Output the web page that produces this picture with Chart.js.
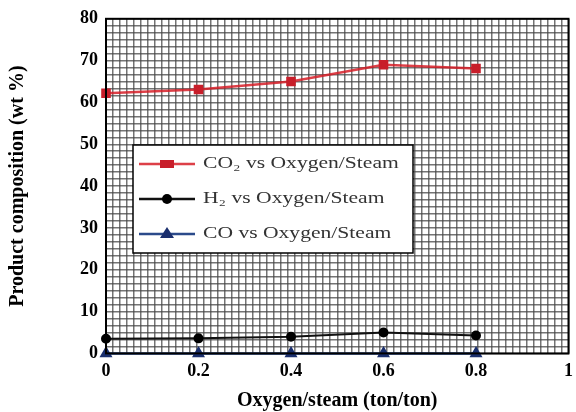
<!DOCTYPE html>
<html lang="en">
<head>
  <meta charset="UTF-8" />
  <title>Product composition vs Oxygen/steam</title>
  <script src="https://cdn.jsdelivr.net/npm/chart.js"></script>
  <style>
    body { margin: 0; padding: 0; background: #fff; }
    #wrap { width: 576px; height: 412px; }
  </style>
</head>
<body>
  <div id="wrap"><canvas id="chart"></canvas></div>

  <script>
    // data
    const ratio = [0, 0.2, 0.4, 0.6, 0.8];
    const co2 = [62.2, 63.1, 65.0, 69.0, 68.1];
    const h2 = [3.5, 3.6, 4.0, 5.0, 4.3];
    const co = [0, 0, 0, 0, 0];
    const seriesNames = ['CO\u2082 vs Oxygen/Steam', 'H\u2082 vs Oxygen/Steam', 'CO vs Oxygen/Steam'];
    const xTicks = [0, 0.2, 0.4, 0.6, 0.8, 1];
    const yTicks = [0, 10, 20, 30, 40, 50, 60, 70, 80];

    const serif = "'Liberation Serif', 'Times New Roman', serif";
    const gridColor = 'rgba(70,70,70,0.75)';

    const pts = vals => ratio.map((x, i) => ({ x: x, y: vals[i] }));

    // frame round the plot + legend box inside the plot
    const framePlugin = {
      id: 'frame',
      afterDatasetsDraw(chart) {
        const { ctx, chartArea: a } = chart;
        ctx.save();
        ctx.strokeStyle = '#000';
        ctx.lineWidth = 2;
        ctx.strokeRect(a.left, a.top, a.right - a.left, a.bottom - a.top);

        // legend
        const bx = 133, by = 145, bw = 280, bh = 108;
        ctx.fillStyle = '#fff';
        ctx.fillRect(bx, by, bw, bh);
        ctx.lineWidth = 1.5;
        ctx.strokeRect(bx, by, bw, bh);
        const rows = [164, 199, 234];
        chart.data.datasets.forEach((ds, i) => {
          const y = rows[i];
          ctx.strokeStyle = ds.borderColor;
          ctx.lineWidth = 2.5;
          ctx.beginPath();
          ctx.moveTo(139, y);
          ctx.lineTo(195, y);
          ctx.stroke();
          ctx.fillStyle = ds.pointBackgroundColor;
          ctx.beginPath();
          if (ds.pointStyle === 'rect') {
            ctx.rect(160, y - 4, 14, 8);
          } else if (ds.pointStyle === 'triangle') {
            ctx.moveTo(167, y - 7);
            ctx.lineTo(174, y + 4);
            ctx.lineTo(160, y + 4);
            ctx.closePath();
          } else {
            ctx.arc(167, y, 5, 0, Math.PI * 2);
          }
          ctx.fill();
          // text, stretched a little like the source
          ctx.save();
          ctx.translate(203, y);
          ctx.scale(1.27, 1);
          ctx.fillStyle = '#333';
          ctx.font = '17px ' + serif;
          ctx.textBaseline = 'middle';
          ctx.fillText(seriesNames[i], 0, 0);
          ctx.restore();
        });
        ctx.restore();
      }
    };

    new Chart(document.getElementById('chart'), {
      type: 'scatter',
      data: {
        datasets: [
          {
            label: seriesNames[0],
            data: pts(co2),
            showLine: true,
            borderColor: 'rgba(215,30,40,0.85)',
            borderWidth: 2.5,
            pointStyle: 'rect',
            pointRadius: 5,
            pointBackgroundColor: '#c81e2a',
            pointBorderColor: '#c81e2a',
            clip: false
          },
          {
            label: seriesNames[1],
            data: pts(h2),
            showLine: true,
            borderColor: '#111',
            borderWidth: 2,
            pointStyle: 'circle',
            pointRadius: 4,
            pointBackgroundColor: '#000',
            pointBorderColor: '#000',
            clip: false
          },
          {
            label: seriesNames[2],
            data: pts(co),
            showLine: true,
            borderColor: '#2b4a8a',
            borderWidth: 2.5,
            pointStyle: 'triangle',
            pointRadius: 5,
            pointBackgroundColor: '#1a2f6e',
            pointBorderColor: '#1a2f6e',
            clip: false
          }
        ]
      },
      options: {
        responsive: true,
        maintainAspectRatio: false,
        animation: false,
        layout: { padding: { left: 6, right: 0, top: 12, bottom: -1 } },
        plugins: {
          legend: { display: false },
          tooltip: { enabled: false }
        },
        scales: {
          x: {
            type: 'linear',
            min: 0,
            max: 1,
            afterBuildTicks: s => { s.ticks = xTicks.map(v => ({ value: v })); },
            afterFit: s => { s.paddingRight = 1; },
            ticks: {
              color: '#000',
              font: { family: serif, size: 18, weight: 'bold' },
              padding: 7,
              callback: v => String(v)
            },
            grid: { display: false, drawTicks: false },
            border: { display: false },
            title: {
              display: true,
              text: 'Oxygen/steam (ton/ton)',
              color: '#000',
              font: { family: serif, size: 20, weight: 'bold' },
              padding: { top: 0, bottom: 0 }
            }
          },
          y: {
            type: 'linear',
            min: 0,
            max: 80,
            afterBuildTicks: s => { s.ticks = yTicks.map(v => ({ value: v })); },
            ticks: {
              color: '#000',
              font: { family: serif, size: 18, weight: 'bold' },
              padding: 8
            },
            grid: { display: false, drawTicks: false },
            border: { display: false },
            title: {
              display: true,
              text: 'Product composition (wt %)',
              color: '#000',
              font: { family: serif, size: 20, weight: 'bold' },
              padding: { top: 0, bottom: 42 }
            }
          },
          // fine graph-paper grid
          gx: {
            type: 'linear',
            axis: 'x',
            position: 'top',
            min: 0,
            max: 1,
            ticks: { display: false, stepSize: 1 / 66 },
            grid: { color: gridColor, lineWidth: 1.5, drawTicks: false },
            border: { display: false }
          },
          gy: {
            type: 'linear',
            axis: 'y',
            position: 'right',
            min: 0,
            max: 80,
            ticks: { display: false, stepSize: 80 / 48 },
            grid: { color: gridColor, lineWidth: 1.5, drawTicks: false },
            border: { display: false }
          }
        }
      },
      plugins: [framePlugin]
    });
  </script>
</body>
</html>
